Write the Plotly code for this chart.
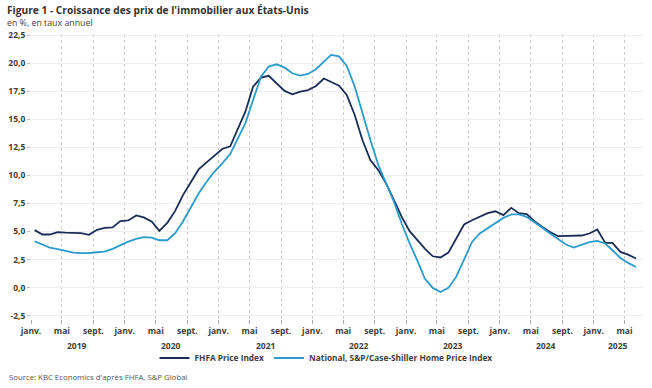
import pandas as pd
import plotly.graph_objects as go

# Monthly data, Jan 2019 - Jun 2025 (annual growth, %)
months = pd.date_range("2019-01-01", periods=78, freq="MS") + pd.Timedelta(days=14)

fhfa = [5.12, 4.73, 4.73, 4.94, 4.90, 4.85, 4.85, 4.70, 5.15, 5.33, 5.36, 5.92,
        5.98, 6.43, 6.25, 5.89, 5.06, 5.77, 6.81, 8.24, 9.43, 10.53, 11.16, 11.75,
        12.35, 12.59, 14.04, 15.68, 17.91, 18.71, 18.87, 18.21, 17.53, 17.23, 17.47, 17.60,
        17.97, 18.63, 18.30, 18.00, 17.17, 15.38, 13.15, 11.37, 10.47, 9.29, 7.79, 6.30,
        5.03, 4.22, 3.48, 2.79, 2.68, 3.12, 4.38, 5.62, 6.00, 6.30, 6.63, 6.80,
        6.46, 7.11, 6.63, 6.54, 5.92, 5.41, 4.96, 4.58, 4.58, 4.61, 4.64, 4.82,
        5.18, 3.98, 3.98, 3.18, 2.94, 2.59]

case_shiller = [4.13, 3.84, 3.57, 3.42, 3.30, 3.12, 3.07, 3.07, 3.15, 3.21, 3.45, 3.78,
                4.10, 4.34, 4.49, 4.46, 4.22, 4.22, 4.82, 5.89, 7.11, 8.39, 9.43, 10.32,
                11.07, 11.90, 13.21, 14.64, 16.72, 18.80, 19.70, 19.90, 19.60, 19.10, 18.90, 19.04,
                19.46, 20.12, 20.74, 20.60, 19.76, 17.91, 15.54, 13.15, 10.92, 9.29, 7.64, 5.71,
                3.93, 2.35, 0.80, -0.03, -0.39, -0.03, 0.95, 2.50, 4.07, 4.82, 5.27, 5.77,
                6.21, 6.52, 6.52, 6.30, 5.86, 5.33, 4.82, 4.29, 3.84, 3.57, 3.78, 4.05,
                4.16, 3.93, 3.33, 2.64, 2.20, 1.84]

y_ticks = [-2.5, 0, 2.5, 5, 7.5, 10, 12.5, 15, 17.5, 20, 22.5]
y_ticktext = [f"{v:.1f}".replace(".", ",") for v in y_ticks]

x_tickvals = pd.date_range("2019-01-01", "2025-05-01", freq="4MS")
month_names = {1: "janv.", 5: "mai", 9: "sept."}
x_ticktext = [month_names[d.month] for d in x_tickvals]

years = ["2019", "2020", "2021", "2022", "2023", "2024", "2025"]
year_pos = ["2019-07-01", "2020-07-01", "2021-07-01", "2022-07-01",
            "2023-07-01", "2024-07-01", "2025-04-05"]

FONT = "Open Sans"
TXT = "#404040"

W, H = 652, 388
ML, MR, MT, MB = 31, 9, 34, 69
PW, PH = W - ML - MR, H - MT - MB


def px_x(x):
    return (x - ML) / PW


def px_y(y):
    return (H - MB - y) / PH


fig = go.Figure()
fig.add_trace(go.Scatter(x=months, y=fhfa, mode="lines", name="FHFA Price Index",
                         line=dict(color="#1b2d57", width=1.8)))
fig.add_trace(go.Scatter(x=months, y=case_shiller, mode="lines",
                         name="National, S&P/Case-Shiller Home Price Index",
                         line=dict(color="#2b9bcc", width=1.8)))

for yr, pos in zip(years, year_pos):
    fig.add_annotation(x=pos, y=px_y(345), xref="x", yref="paper", text=yr,
                       showarrow=False, yanchor="middle",
                       font=dict(family=FONT, size=8.5, color=TXT, weight="bold"))

fig.add_annotation(text="<b>Figure 1 - Croissance des prix de l'immobilier aux États-Unis</b>",
                   x=px_x(5), y=px_y(10), xref="paper", yref="paper",
                   xanchor="left", yanchor="middle", showarrow=False,
                   font=dict(family=FONT, size=10.2, color="#333333"))
fig.add_annotation(text="en %, en taux annuel",
                   x=px_x(5), y=px_y(22.5), xref="paper", yref="paper",
                   xanchor="left", yanchor="middle", showarrow=False,
                   font=dict(family=FONT, size=8.8, color="#444444"))
fig.add_annotation(text="Source: KBC Economics d'après FHFA, S&P Global",
                   x=px_x(7), y=px_y(377), xref="paper", yref="paper",
                   xanchor="left", yanchor="middle", showarrow=False,
                   font=dict(family=FONT, size=7.8, color="#555555"))

fig.update_layout(
    width=W, height=H,
    margin=dict(l=ML, r=MR, t=MT, b=MB, autoexpand=False),
    paper_bgcolor="white", plot_bgcolor="white",
    font=dict(family=FONT, size=9, color=TXT),
    showlegend=True,
    legend=dict(orientation="h", x=px_x(326), xanchor="center",
                y=px_y(358), yanchor="middle", traceorder="normal",
                font=dict(family=FONT, size=8.3, color=TXT, weight="bold"),
                itemwidth=30, tracegroupgap=0, bgcolor="rgba(0,0,0,0)"),
    xaxis=dict(range=["2019-01-01", "2025-07-12"], type="date",
               tickvals=x_tickvals, ticktext=x_ticktext, tickangle=0,
               showgrid=True, gridcolor="#cfcfcf", griddash="dot", gridwidth=1,
               ticks="outside", ticklen=4, tickcolor="#aaaaaa",
               tickfont=dict(family=FONT, size=8.5, color=TXT, weight="bold"),
               showline=False, zeroline=False),
    yaxis=dict(range=[-2.8, 22.6], tickvals=y_ticks, ticktext=y_ticktext,
               showgrid=True, gridcolor="#efefef", gridwidth=1,
               ticks="outside", ticklen=3, tickcolor="#bbbbbb",
               tickfont=dict(family=FONT, size=8.5, color=TXT, weight="bold"),
               zeroline=False, showline=False),
)

fig.write_html("out.html",
               config={"displayModeBar": False},
               post_script="document.body.style.margin='0';document.body.style.overflow='hidden';")
